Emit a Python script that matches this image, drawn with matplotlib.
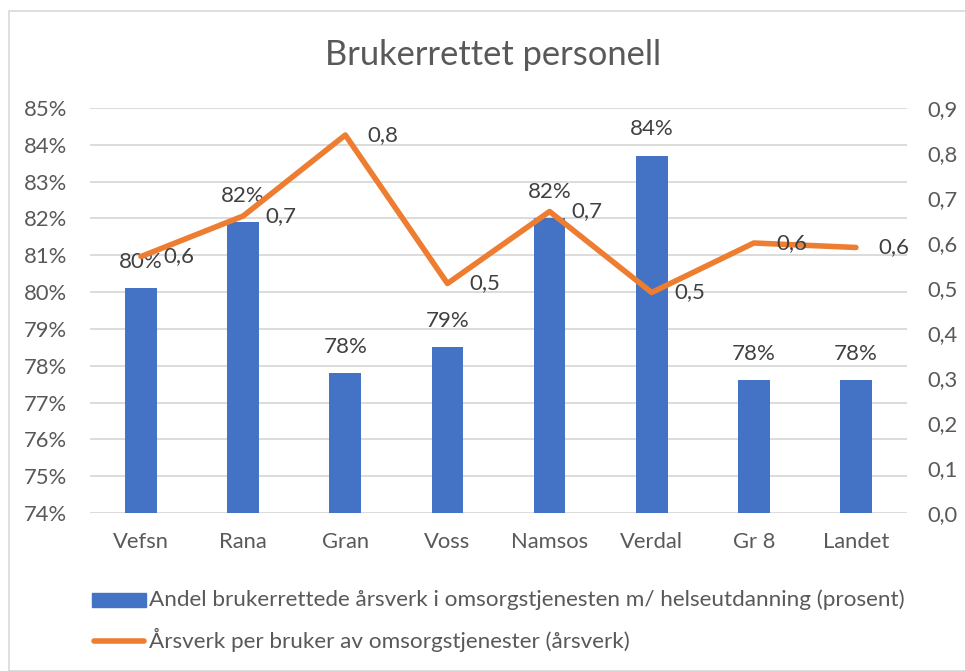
import numpy as np
import matplotlib
matplotlib.use("Agg")
from matplotlib import pyplot as plt
from matplotlib.patches import Rectangle

plt.rcParams['font.family'] = ['Lato', 'DejaVu Sans']

kommuner = ['Vefsn', 'Rana', 'Gran', 'Voss', 'Namsos', 'Verdal', 'Gr 8', 'Landet']
andel = [80.1, 81.9, 77.8, 78.5, 82.0, 83.7, 77.6, 77.6]          # prosent
aarsverk = [0.57, 0.66, 0.84, 0.51, 0.67, 0.49, 0.60, 0.59]        # årsverk per bruker
andel_labels = ['80%', '82%', '78%', '79%', '82%', '84%', '78%', '78%']
aarsverk_labels = ['0,6', '0,7', '0,8', '0,5', '0,7', '0,5', '0,6', '0,6']
left_ticks = list(range(74, 86))
right_ticks = [0.0, 0.1, 0.2, 0.3, 0.4, 0.5, 0.6, 0.7, 0.8, 0.9]

blue = '#4472c4'
orange = '#ed7d31'
txt = '#595959'
grid = '#d9d9d9'

W, H = 965, 671
fig = plt.figure(figsize=(W/100, H/100), dpi=100)
ax = fig.add_axes([90/W, 1-513/H, (907-90)/W, (513-108)/H])
ax2 = ax.twinx()

x = np.arange(len(kommuner))
ax.bar(x, andel, width=0.31, color=blue, zorder=2, bottom=0)
ax.set_ylim(74, 85)
ax.set_xlim(-0.5, len(kommuner)-0.5)
ax.set_yticks(left_ticks)
ax.set_yticklabels([f'{v}%' for v in left_ticks])
ax.yaxis.grid(True, color=grid, lw=1.3, zorder=0)
ax.set_axisbelow(True)
ax.set_xticks(x)
ax.set_xticklabels(kommuner)
for a in (ax, ax2):
    for s in a.spines.values():
        s.set_visible(False)
    a.tick_params(length=0, labelsize=15.8, colors=txt)
ax.tick_params(axis='y', pad=16.5)
ax.tick_params(axis='x', pad=14)
ax2.tick_params(axis='y', pad=15)

for xi, v, lab in zip(x, andel, andel_labels):
    ax.annotate(lab, (xi, v), xytext=(0, 19), textcoords='offset points',
                ha='center', va='center', fontsize=16, color='#404040')

ax2.plot(x, aarsverk, color=orange, lw=4, solid_capstyle='round', zorder=3)
ax2.set_ylim(0, 0.9)
ax2.set_yticks(right_ticks)
ax2.set_yticklabels([f'{v:.1f}'.replace('.', ',') for v in right_ticks])
for xi, v, lab in zip(x, aarsverk, aarsverk_labels):
    ax2.annotate(lab, (xi, v), xytext=(16, 0), textcoords='offset points',
                 ha='left', va='center', fontsize=16, color='#404040')

fig.text(493/W, 1-55/H, 'Brukerrettet personell', ha='center', va='center',
         fontsize=24.8, color=txt)

# legend
fig.patches.append(Rectangle((92/W, 1-607/H), 54/W, 14/H, transform=fig.transFigure,
                             color=blue))
fig.text(149/W, 1-600/H, 'Andel brukerrettede årsverk i omsorgstjenesten m/ helseutdanning (prosent)',
         ha='left', va='center', fontsize=16.2, color=txt)
fig.lines.append(plt.Line2D([94/W, 144/W], [1-641/H, 1-641/H], transform=fig.transFigure,
                            color=orange, lw=4, solid_capstyle='round'))
fig.text(149/W, 1-640/H, 'Årsverk per bruker av omsorgstjenester (årsverk)',
         ha='left', va='center', fontsize=16.2, color=txt)

# chart frame
fig.patches.append(Rectangle((9/W, 0), 1, 1-11/H, transform=fig.transFigure,
                             fill=False, ec=grid, lw=1.2))

fig.savefig('out.png', dpi=100)
